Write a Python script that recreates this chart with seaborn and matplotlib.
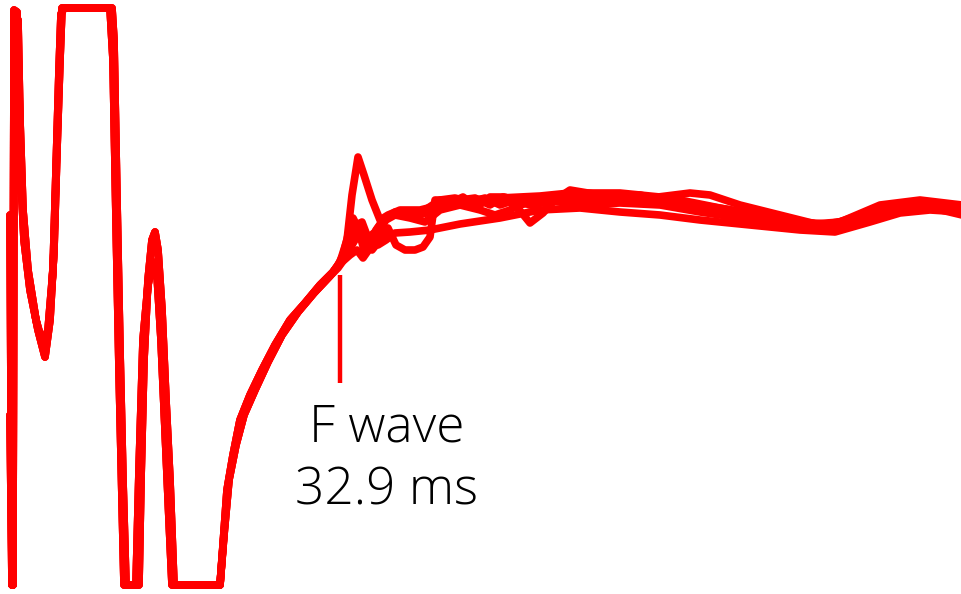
import numpy as np
import pandas as pd
import matplotlib
matplotlib.use("Agg")
import matplotlib.pyplot as plt
import seaborn as sns

# Superimposed F-wave recordings (time in ms, amplitude in mV).
# The amplifier saturates at +1.92 / -3.85 mV during the stimulus artefact and M wave.

# Stimulus artefact, M wave and return to baseline (two slightly different sweeps)
m_time_a = [-0.1, 0.1, 0.2, 0.3, 0.6, 0.8, 1.0, 1.3, 1.9, 2.7, 3.4, 3.9, 4.3, 4.6, 4.9, 5.1,
            10.1, 10.3, 10.6, 10.9, 11.2, 11.5, 12.8, 13.0, 13.3, 13.7, 14.1, 14.4, 14.7,
            15.1, 15.5, 15.9, 16.3, 20.9, 21.2, 21.6, 22.2, 22.9, 23.9, 25.1, 26.4, 27.9,
            29.4, 30.9, 32.2]
m_amp_a = [-0.15, -3.85, -3.85, 1.90, 1.88, 1.10, 0.20, -0.40, -0.90, -1.30, -1.57, -1.20,
           -0.50, 0.50, 1.40, 1.92, 1.92, 1.60, 0.00, -1.50, -2.80, -3.85, -3.85, -2.80,
           -1.60, -0.80, -0.40, -0.32, -0.50, -1.10, -2.00, -2.80, -3.85, -3.85, -3.45,
           -2.90, -2.55, -2.20, -1.95, -1.70, -1.45, -1.20, -1.03, -0.85, -0.72]

m_time_b = [-0.1, 0.1, 0.2, 0.3, 0.7, 0.9, 1.2, 1.7, 2.5, 3.2, 3.7, 4.2, 4.5, 4.8, 5.0, 5.3,
            9.9, 10.2, 10.5, 10.8, 11.1, 11.3, 12.5, 12.8, 13.2, 13.7, 14.2, 14.6, 15.0,
            15.4, 15.8, 16.1, 20.9, 21.3, 21.8, 22.5, 23.3, 24.4, 25.7, 27.1, 28.7, 30.3,
            31.9]
m_amp_b = [-2.15, -3.85, -3.85, 1.86, 1.80, 0.80, -0.10, -0.70, -1.20, -1.45, -1.30, -0.70,
           0.30, 1.30, 1.86, 1.92, 1.92, 1.40, -0.20, -1.70, -3.00, -3.85, -3.85, -2.70,
           -1.40, -0.85, -0.62, -0.75, -1.40, -2.30, -3.20, -3.85, -3.85, -3.35, -2.80,
           -2.45, -2.15, -1.90, -1.62, -1.35, -1.12, -0.93, -0.76]

# Late responses of the individual sweeps
f1_time = [32.9, 33.6, 34.1, 34.7, 35.3, 36.1, 36.9, 37.7, 38.9, 40.9, 42.9, 45.9, 48.9, 52.9,
           55.9, 60.9, 64.9, 68.9, 73.9, 77.9, 81.9, 84.9, 88.9, 91.9, 95.1]
f1_amp = [-0.62, -0.40, 0.05, 0.43, 0.25, 0.00, -0.20, -0.15, -0.10, -0.10, -0.05, 0.00, 0.02,
          0.04, 0.07, 0.07, 0.03, -0.05, -0.13, -0.22, -0.25, -0.15, -0.03, -0.03, -0.08]

f2_time = [32.7, 33.4, 34.1, 34.7, 35.4, 36.1, 36.9, 37.7, 38.5, 39.4, 40.4, 41.2, 41.9, 42.4,
           43.1, 43.9, 45.2, 46.6, 47.9, 49.4, 50.9, 52.9, 54.9, 58.9, 62.9, 66.9, 70.9,
           74.9, 78.9, 82.9, 86.9, 90.9, 95.1]
f2_amp = [-0.68, -0.58, -0.40, -0.28, -0.35, -0.50, -0.40, -0.28, -0.45, -0.50, -0.50, -0.47,
          -0.37, 0.00, 0.00, -0.03, 0.03, -0.07, 0.03, 0.03, -0.05, 0.00, 0.03, 0.00, 0.02,
          0.00, -0.08, -0.15, -0.22, -0.25, -0.10, -0.05, -0.15]

f3_time = [32.9, 33.7, 34.4, 35.1, 35.9, 36.7, 37.5, 38.4, 39.9, 41.9, 44.9, 48.9, 52.9, 56.9,
           60.9, 64.9, 68.9, 73.9, 78.9, 82.4, 85.9, 88.9, 91.9, 95.1]
f3_amp = [-0.62, -0.52, -0.40, -0.32, -0.38, -0.45, -0.40, -0.33, -0.32, -0.30, -0.24, -0.18,
          -0.10, -0.08, -0.12, -0.15, -0.20, -0.25, -0.30, -0.32, -0.22, -0.13, -0.10, -0.12]

f4_time = [32.5, 33.3, 33.9, 34.5, 35.1, 35.7, 36.4, 37.1, 38.1, 39.4, 40.9, 42.9, 44.9, 46.4,
           47.9, 49.2, 50.6, 51.9, 53.2, 54.4, 55.9, 58.9, 62.9, 66.9, 70.9, 74.9, 78.9,
           82.9, 86.9, 90.9, 95.1]
f4_amp = [-0.68, -0.58, -0.45, -0.25, -0.22, -0.38, -0.32, -0.22, -0.14, -0.12, -0.15, -0.08,
          0.00, 0.02, -0.05, 0.03, -0.07, -0.23, -0.13, 0.00, 0.10, 0.05, 0.05, -0.04, -0.12,
          -0.18, -0.25, -0.22, -0.05, 0.00, -0.05]

f5_time = [32.6, 33.2, 33.7, 34.2, 34.7, 35.3, 35.9, 36.5, 37.2, 38.4, 39.9, 41.4, 42.9, 44.4,
           45.9, 47.4, 48.9, 50.4, 51.9, 54.9, 58.9, 63.9, 67.9, 69.9, 72.9, 76.9, 80.9,
           83.9, 87.9, 91.9, 95.1]
f5_amp = [-0.67, -0.55, -0.35, -0.18, -0.28, -0.50, -0.45, -0.30, -0.20, -0.12, -0.14, -0.10,
          0.00, 0.02, -0.02, 0.02, -0.05, 0.00, -0.05, 0.00, 0.02, 0.02, 0.07, 0.05, -0.05,
          -0.15, -0.25, -0.20, -0.07, -0.05, -0.07]

f6_time = [32.4, 33.1, 33.9, 34.6, 35.2, 35.9, 36.7, 37.5, 38.4, 39.9, 41.4, 42.9, 44.9, 46.9,
           48.4, 49.9, 51.4, 53.4, 56.9, 60.9, 64.9, 68.9, 72.9, 76.9, 80.9, 84.9, 88.9,
           92.9, 95.1]
f6_amp = [-0.70, -0.62, -0.55, -0.50, -0.58, -0.48, -0.32, -0.20, -0.15, -0.18, -0.22, -0.10,
          -0.05, -0.10, -0.15, -0.10, 0.00, 0.00, -0.05, -0.03, -0.05, -0.12, -0.18, -0.22,
          -0.28, -0.22, -0.10, -0.08, -0.10]

f_latency = 32.9          # ms, marked F-wave onset
marker_top, marker_bottom = -0.75, -1.83
label_lines = ["F wave", f"{f_latency} ms"]

sweeps = [
    (m_time_a, m_amp_a, f1_time, f1_amp),
    (m_time_b, m_amp_b, f2_time, f2_amp),
    (m_time_a, m_amp_a, f3_time, f3_amp),
    (m_time_b, m_amp_b, f4_time, f4_amp),
    (m_time_a, m_amp_a, f5_time, f5_amp),
    (m_time_b, m_amp_b, f6_time, f6_amp),
]

frames = []
for i, (mt, ma, ft, fa) in enumerate(sweeps):
    frames.append(pd.DataFrame({"time": list(mt) + list(ft),
                                "amplitude": list(ma) + list(fa),
                                "sweep": i}))
df = pd.concat(frames, ignore_index=True)

sns.set_style("white")
fig = plt.figure(figsize=(9.62, 5.94), dpi=100)
ax = fig.add_axes([0, 0, 1, 1])

sns.lineplot(data=df, x="time", y="amplitude", units="sweep", estimator=None, sort=False,
             color="#ff0000", linewidth=5.5, ax=ax, legend=False)

ax.vlines(f_latency, marker_bottom, marker_top, color="#ff0000", linewidth=3.2)
ax.text(37.6, -2.02, "\n".join(label_lines), ha="center", va="top", ma="center",
        fontsize=37, fontfamily=["Open Sans", "DejaVu Sans"], fontweight="light",
        color="black", linespacing=1.3)

ax.set_xlim(-1.1, 95.1)
ax.set_ylim(-3.94, 2.0)
ax.axis("off")

fig.savefig("out.png", dpi=100, facecolor="white")
